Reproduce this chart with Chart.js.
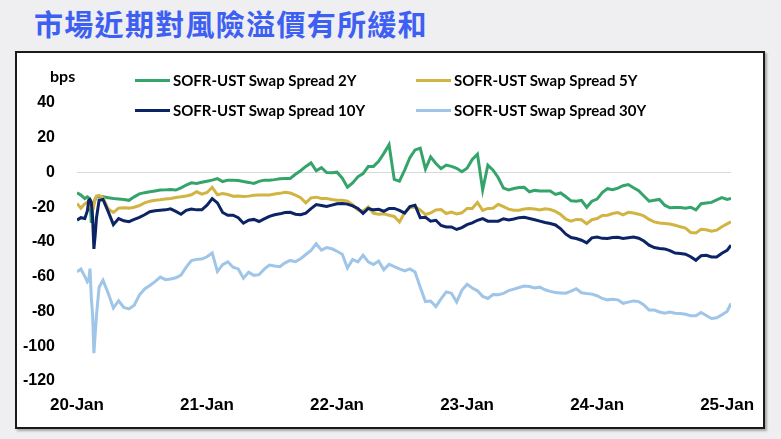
<!DOCTYPE html>
<html>
<head>
<meta charset="utf-8">
<script src="https://cdn.jsdelivr.net/npm/chart.js@4.4.1/dist/chart.umd.min.js"></script>
<style>
  body { margin: 0; width: 781px; height: 439px; background: #efeff1; position: relative; overflow: hidden; }
  #title { position: absolute; left: 34px; top: 9px; font: 700 29px "Noto Sans CJK TC", sans-serif; line-height: 1; letter-spacing: 1.3px; color: #3d60f3; }
  #frame { position: absolute; left: 15px; top: 51px; width: 746px; height: 374px; border: 2px solid #1a1a1a; background: #fff; box-shadow: 2px 2px 2px rgba(0,0,0,0.3); }
  #wrap { position: absolute; left: 17px; top: 53px; width: 744px; height: 372px; }
  #bps { position: absolute; left: 50px; top: 66px; font: 700 16px Lato, sans-serif; color: #000; }
  .leg { position: absolute; font: 700 15px Lato, sans-serif; color: #000; white-space: nowrap; display: flex; align-items: center; }
  .leg span.line { display: inline-block; width: 35px; height: 3px; margin-right: 3px; }
</style>
</head>
<body>
<div id="title">市場近期對風險溢價有所緩和</div>
<div id="frame"></div>
<div id="wrap"><canvas id="chart" width="744" height="372"></canvas></div>
<div id="bps">bps</div>
<div id="legend"></div>
<script>
// decimal years of the sampled points
const years = [
  2020.00, 2020.03, 2020.06, 2020.08, 2020.09, 2020.10, 2020.11, 2020.12, 2020.13, 2020.14, 2020.15, 2020.17,
  2020.20, 2020.24, 2020.28, 2020.32, 2020.36, 2020.40, 2020.44, 2020.48, 2020.52, 2020.56, 2020.60, 2020.64,
  2020.68, 2020.72, 2020.76, 2020.80, 2020.84, 2020.88, 2020.92, 2020.96,
  2021.00, 2021.04, 2021.08, 2021.12, 2021.16, 2021.20, 2021.24, 2021.28, 2021.32, 2021.36, 2021.40, 2021.44,
  2021.48, 2021.52, 2021.56, 2021.60, 2021.64, 2021.68, 2021.72, 2021.76, 2021.80, 2021.84, 2021.88, 2021.92, 2021.96,
  2022.00, 2022.04, 2022.08, 2022.12, 2022.16, 2022.20, 2022.24, 2022.28, 2022.32, 2022.36, 2022.40, 2022.44,
  2022.48, 2022.52, 2022.56, 2022.60, 2022.64, 2022.68, 2022.72, 2022.76, 2022.80, 2022.84, 2022.88, 2022.92, 2022.96,
  2023.00, 2023.04, 2023.08, 2023.12, 2023.16, 2023.20, 2023.24, 2023.28, 2023.32, 2023.36, 2023.40, 2023.44,
  2023.48, 2023.52, 2023.56, 2023.60, 2023.64, 2023.68, 2023.72, 2023.76, 2023.80, 2023.84, 2023.88, 2023.92, 2023.96,
  2024.00, 2024.04, 2024.08, 2024.12, 2024.16, 2024.20, 2024.24, 2024.28, 2024.32, 2024.36, 2024.40, 2024.44,
  2024.48, 2024.52, 2024.56, 2024.60, 2024.64, 2024.68, 2024.72, 2024.76, 2024.80, 2024.84, 2024.88, 2024.92, 2024.96,
  2025.00, 2025.03
];

const spread2Y = [
  -11.7, -13, -15, -14, -14.5, -16, -29, -22, -17, -15.5, -14, -14,
  -14, -14.5, -15, -15.2, -15.5, -16, -14, -12.3, -11.6, -11.1, -10.6, -10.1,
  -10, -9.8, -10.1, -8.8, -7.2, -5.9, -6.3, -5.6,
  -5, -4.4, -3.5, -5.2, -4.4, -4.4, -4.6, -5.2, -5.7, -6.3, -5.1, -4.4,
  -4.4, -4.1, -3.6, -3.4, -3.4, -1, 1.0, 3.5, 5.5, 1.0, 2.8, 0, -0.1,
  0.2, -3.2, -8.5, -6, -2.5, -0.6, 3.4, 3.5, 6.5, 11, 16, -4,
  -5, 1.4, 8.5, 13, 14, 2, 9, 5.2, 2.3, 4.3, 3.5, 2.4, 0.4,
  2.5, 7.5, 10.5, -10, 4.2, 1.3, -3, -9, -10, -9.2, -8.6, -8.5,
  -11.1, -10.3, -10.7, -10.7, -10.6, -12.6, -11.8, -14, -16.3, -16.5, -16, -20, -16.5,
  -15.3, -11.6, -9.3, -9.9, -9, -7.6, -6.9, -8.8, -10.5, -13.5, -16.5, -16,
  -15.5, -18.8, -20.3, -20.1, -20.2, -20.5, -20, -21.5, -18, -17.6, -17.2, -15.8, -14.5,
  -15.5, -15
];

const spread5Y = [
  -17.8, -20.5, -18, -17, -18, -19.8, -20.5, -21.5, -19, -15, -13.5, -13.2,
  -14.5, -21, -23, -20.5, -20.3, -20.5, -20, -19, -17.5, -16.5, -16, -15.7,
  -15.3, -15, -14.4, -14, -13.5, -12.8, -11.1, -12.5,
  -11.5, -8.5, -12.8, -12.1, -12.7, -13.6, -13.5, -13.8, -13.6, -13.1, -13, -13,
  -13, -12.4, -12, -11.4, -11.8, -13, -14.5, -17.5, -14.6, -14.2, -15, -15, -15.5,
  -15.9, -15.9, -16.5, -18.5, -21.5, -22.2, -19.8, -23.5, -24, -23.8, -24.6, -25.3,
  -28.5, -23, -20.2, -19.8, -21.5, -24.2, -23.3, -21.5, -21.3, -23.6, -22.8, -23.8, -23.2,
  -20.7, -20.7, -17.2, -21.8, -20.7, -20.6, -18.3, -19.6, -21.1, -21.7, -21.7, -21,
  -20.7, -21, -21.6, -20.9, -21.3, -22.4, -24.2, -26.9, -28, -27, -27.2, -29.5, -27.2,
  -26.5, -24.7, -24.6, -23.6, -23.1, -24.4, -22.9, -23.3, -24, -25, -27, -28.4,
  -29.1, -29.4, -29.7, -30.4, -31.2, -32, -34.5, -34.8, -32.7, -33, -33.8, -33.2, -31.2,
  -29.6, -28.4
];

const spread10Y = [
  -27.4, -26, -26.5, -22, -16, -15.5, -17, -26, -44, -36, -26, -16,
  -15.5, -22.5, -30, -26.5, -27.8, -28.3, -27, -25.8, -24.3, -22.6, -22, -21.7,
  -21.5, -20.9, -22.4, -24, -21.8, -21, -21.5, -21.5,
  -18.8, -15, -17.5, -23, -24.6, -24.6, -26, -29.2, -27.5, -27, -28.2, -26.7,
  -25.2, -24.3, -23.8, -23, -22.9, -24, -24.3, -23.4, -20.8, -18.5, -19, -19.6, -18.8,
  -18, -17.8, -18.2, -19.2, -20.7, -23.5, -20.7, -21.5, -21.2, -22.3, -20.7, -20.7,
  -21.8, -23.4, -19.6, -18.8, -26, -25.8, -28, -27.5, -30.5, -31.3, -31.3, -32.8, -31.7,
  -30, -29, -27.5, -26.5, -28, -28, -28, -26.6, -27.3, -26.8, -26, -25.8,
  -26.5, -27.2, -28, -28.8, -29.4, -30.2, -32.4, -35.5, -37.4, -38, -39, -40.5, -37.6,
  -37.2, -37.9, -38, -37.4, -37.3, -38, -37.5, -37.1, -37.8, -39.4, -41.8, -43.2,
  -43.7, -44, -45, -46.4, -46.6, -47, -48.5, -50.5, -47.9, -47.6, -48.6, -48.6, -46.5,
  -44.8, -41.8
];

const spread30Y = [
  -57.2, -55.5, -59.8, -63, -62, -55.3, -72, -82, -104, -93, -82, -66,
  -62, -69.5, -78, -73.8, -77.7, -78.5, -76.4, -70.5, -67, -65, -62.8, -60.2,
  -61.7, -61.3, -60.6, -59, -54.5, -50.7, -50, -49.8,
  -48.5, -46.3, -57, -53, -51.4, -54.5, -55.5, -60.8, -57.4, -59.2, -58.8, -55.6,
  -53.3, -53.8, -54.2, -52, -50.6, -51.3, -49.6, -47.2, -44.8, -41, -44.7, -43.2, -43.9,
  -45.3, -47, -55, -50, -51.4, -47.6, -51.4, -53, -51, -56, -52.8, -54.2,
  -55.5, -56.6, -55.5, -57.3, -66, -74.3, -74, -77.2, -72.7, -68.7, -69.5, -74.5, -67.8,
  -64.3, -66.5, -68.1, -71.3, -72.5, -70.2, -70.3, -69.6, -68, -67.1, -66.2, -65.3,
  -65.6, -66.5, -66, -67.5, -68.4, -69.1, -69.3, -69.5, -68.3, -66.9, -69.2, -69.7, -70,
  -70.9, -72.5, -73.3, -73, -73.3, -75.3, -74.6, -73.9, -74.3, -76.2, -79.2, -79.2,
  -80.3, -81, -80.3, -81, -81.2, -81.6, -82.4, -82.5, -80.6, -82.3, -84, -83.6, -81.9,
  -80, -75.4
];

const tickYears = [2020, 2021, 2022, 2023, 2024, 2025];
const tickLabels = ['20-Jan', '21-Jan', '22-Jan', '23-Jan', '24-Jan', '25-Jan'];

const seriesNames = ['SOFR-UST Swap Spread 2Y', 'SOFR-UST Swap Spread 5Y', 'SOFR-UST Swap Spread 10Y', 'SOFR-UST Swap Spread 30Y'];
const seriesData = [spread2Y, spread5Y, spread10Y, spread30Y];
const seriesColors = ['#35a46b', '#d2b443', '#0c2466', '#9fc5e8'];

// legend (2 columns x 2 rows)
const legPos = [[135, 80], [416, 80], [135, 110], [416, 110]];
const legend = document.getElementById('legend');
seriesNames.forEach((name, i) => {
  const d = document.createElement('div');
  d.className = 'leg';
  d.style.left = legPos[i][0] + 'px';
  d.style.top = (legPos[i][1] - 10) + 'px';
  d.style.height = '20px';
  d.innerHTML = '<span class="line" style="background:' + seriesColors[i] + '"></span>' + name;
  legend.appendChild(d);
});

const datasets = seriesNames.map((name, i) => ({
  label: name,
  data: years.map((x, j) => ({ x: x, y: seriesData[i][j] })),
  borderColor: seriesColors[i],
  borderWidth: 3,
  pointRadius: 0,
  tension: 0,
  order: 4 - i
}));

new Chart(document.getElementById('chart'), {
  type: 'line',
  data: { datasets },
  options: {
    responsive: false,
    animation: false,
    devicePixelRatio: 1,
    layout: { padding: { left: 0, right: 30, top: 50, bottom: 0 } },
    plugins: { legend: { display: false }, tooltip: { enabled: false } },
    scales: {
      x: {
        type: 'linear',
        min: 2020,
        max: 2025.03,
        afterBuildTicks: s => { s.ticks = tickYears.map(v => ({ value: v })); },
        afterFit: s => { s.height = 44; s.paddingLeft = 0; s.paddingRight = 0; },
        grid: { display: false },
        border: { display: false },
        ticks: {
          autoSkip: false,
          maxRotation: 0,
          padding: 6,
          color: '#000',
          font: { family: 'Liberation Sans', size: 17, weight: 'bold' },
          callback: v => tickLabels[tickYears.indexOf(v)]
        }
      },
      y: {
        min: -120,
        max: 40,
        afterFit: s => { s.width = 60; s.paddingTop = 0; s.paddingBottom = 0; },
        grid: {
          drawTicks: false,
          color: c => (c.tick && c.tick.value === 0 ? '#d9d9d9' : 'rgba(0,0,0,0)'),
          lineWidth: 1
        },
        border: { display: false },
        ticks: {
          stepSize: 20,
          padding: 22,
          color: '#000',
          font: { family: 'Liberation Sans', size: 16, weight: 'bold' }
        }
      }
    }
  }
});
</script>
</body>
</html>
